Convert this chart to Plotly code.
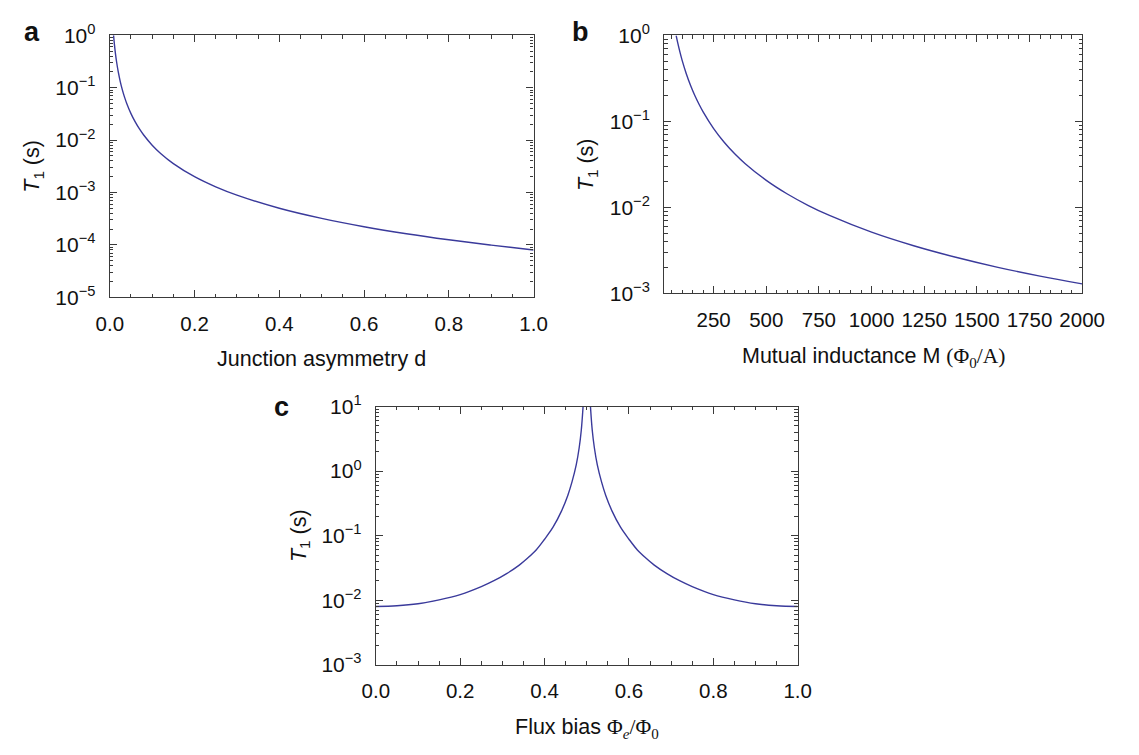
import plotly.graph_objects as go

# ---------------- data ----------------
# Panel a: T1 vs junction asymmetry d
asym_d = [0.0089, 0.011, 0.013, 0.016, 0.02, 0.025, 0.03, 0.035, 0.04, 0.05, 0.06,
          0.07, 0.08, 0.1, 0.12, 0.15, 0.2, 0.25, 0.3, 0.4, 0.5, 0.6, 0.7, 0.8,
          0.9, 1.0]
t1_asym = [1.0, 0.661, 0.473, 0.3125, 0.2, 0.128, 0.0889, 0.0653, 0.05, 0.032,
           0.0222, 0.0163, 0.0125, 0.008, 0.00556, 0.00356, 0.002, 0.00128,
           0.000889, 0.0005, 0.00032, 0.000222, 0.000163, 0.000125, 0.0000988,
           0.00008]

# Panel b: T1 vs mutual inductance M (Phi0/A)
mutual_m = [72, 80, 90, 100, 120, 140, 160, 180, 200, 250, 300, 350, 400, 500,
            600, 700, 800, 1000, 1200, 1400, 1600, 1800, 2000]
t1_mutual = [0.993, 0.805, 0.636, 0.515, 0.358, 0.263, 0.201, 0.159, 0.129,
             0.0824, 0.0572, 0.042, 0.0322, 0.0206, 0.0143, 0.0105, 0.00805,
             0.00515, 0.00358, 0.00263, 0.00201, 0.00159, 0.00129]

# Panel c: T1 vs flux bias (left half; right half mirrored about 0.5)
flux_left = [0.0, 0.05, 0.1, 0.15, 0.2, 0.25, 0.28, 0.31, 0.34, 0.36, 0.38, 0.40,
             0.42, 0.44, 0.455, 0.465, 0.475, 0.482, 0.487, 0.491, 0.4925]
t1_flux_left = [0.0080, 0.0082, 0.0088, 0.0101, 0.0122, 0.0162, 0.0200, 0.0258,
                0.035, 0.045, 0.060, 0.088, 0.135, 0.24, 0.42, 0.68, 1.25, 2.3,
                4.3, 9.5, 14.0]
flux_right = [1.0 - v for v in reversed(flux_left)]
t1_flux_right = list(reversed(t1_flux_left))

# tick labels
decade_exps = [-5, -4, -3, -2, -1, 0, 1]
x01_ticks = [0.0, 0.2, 0.4, 0.6, 0.8, 1.0]
m_ticks = [250, 500, 750, 1000, 1250, 1500, 1750, 2000]

# ---------------- styling ----------------
W, H = 1139, 755
LINE = "rgb(58,58,155)"
AX = "#3a3a3a"
FONT = "Liberation Sans, Arial, sans-serif"
TICK_X = 20.5
TICK_Y = 21
TITLE = 21.5


def px_x(p):
    return p / W


def px_y(p):
    return 1 - p / H


def dec_label(e):
    s = str(e).replace("-", "\u2212")
    return "10<sup>" + s + "</sup>"


def log_axis(lo, hi):
    vals = [10.0 ** e for e in decade_exps if lo <= e <= hi]
    txt = [dec_label(e) for e in decade_exps if lo <= e <= hi]
    minors = []
    for e in range(lo, hi):
        for k in range(2, 10):
            minors.append(k * 10.0 ** e)
    return dict(type="log", range=[lo, hi], tickvals=vals, ticktext=txt,
                ticks="inside", ticklen=7, tickwidth=1, tickcolor=AX,
                showline=True, linecolor=AX, linewidth=1.2, mirror="ticks",
                showgrid=False, zeroline=False,
                tickfont=dict(family=FONT, size=TICK_Y, color="#111"),
                ticklabelstandoff=9,
                minor=dict(tickvals=minors, ticks="inside", ticklen=3.5,
                           tickcolor=AX, tickwidth=1, showgrid=False))


def lin_axis(rng, tvals, ttext, minor_dtick):
    return dict(range=rng, tickvals=tvals, ticktext=ttext,
                ticks="inside", ticklen=7, tickwidth=1, tickcolor=AX,
                showline=True, linecolor=AX, linewidth=1.2, mirror="ticks",
                showgrid=False, zeroline=False,
                tickfont=dict(family=FONT, size=TICK_X, color="#111"),
                ticklabelstandoff=8,
                minor=dict(dtick=minor_dtick, ticks="inside", ticklen=3.5,
                           tickcolor=AX, tickwidth=1, showgrid=False))


fig = go.Figure()
for xs, ys, xr, yr in [(asym_d, t1_asym, "x", "y"),
                       (mutual_m, t1_mutual, "x2", "y2"),
                       (flux_left, t1_flux_left, "x3", "y3"),
                       (flux_right, t1_flux_right, "x3", "y3")]:
    fig.add_trace(go.Scatter(x=xs, y=ys, mode="lines", xaxis=xr, yaxis=yr,
                             line=dict(color=LINE, width=1.4, shape="spline"),
                             showlegend=False, hoverinfo="skip"))

# plot-area boxes in pixels
A = dict(l=99, r=537, t=22, b=293)
B = dict(l=672, r=1104, t=22, b=289)
C = dict(l=374, r=810, t=406, b=673)

xa = lin_axis([0, 1], x01_ticks, ["%.1f" % v for v in x01_ticks], 0.05)
xa.update(domain=[px_x(A["l"]), px_x(A["r"])], anchor="y")
ya = log_axis(-5, 0)
ya.update(domain=[px_y(A["b"]), px_y(A["t"])], anchor="x")

xb = lin_axis([15, 2000], m_ticks, [str(v) for v in m_ticks], 50)
xb.update(domain=[px_x(B["l"]), px_x(B["r"])], anchor="y2")
yb = log_axis(-3, 0)
yb.update(domain=[px_y(B["b"]), px_y(B["t"])], anchor="x2")

xc = lin_axis([0, 1], x01_ticks, ["%.1f" % v for v in x01_ticks], 0.05)
xc.update(domain=[px_x(C["l"]), px_x(C["r"])], anchor="y3")
yc = log_axis(-3, 1)
yc.update(domain=[px_y(C["b"]), px_y(C["t"])], anchor="x3")

fig.update_layout(
    width=W, height=H, margin=dict(l=0, r=0, t=0, b=0),
    paper_bgcolor="white", plot_bgcolor="white",
    xaxis=xa, yaxis=ya, xaxis2=xb, yaxis2=yb, xaxis3=xc, yaxis3=yc,
    font=dict(family=FONT, color="#111"),
)

ann = []


def add_text(x, y, text, size=TITLE, angle=0, bold=False):
    ann.append(dict(x=px_x(x), y=px_y(y), xref="paper", yref="paper",
                    text=("<b>%s</b>" % text) if bold else text,
                    showarrow=False, textangle=angle,
                    xanchor="center", yanchor="middle",
                    font=dict(family=FONT, size=size, color="#111")))


t1_title = "<i>T</i><sub>1</sub> (s)"
# panel letters
add_text(19, 19, "a", size=27, bold=True)
add_text(586, 19, "b", size=27, bold=True)
add_text(276, 406, "c", size=27, bold=True)
# y titles
add_text(20, (A["t"] + A["b"]) / 2, t1_title, angle=-90)
add_text(593, (B["t"] + B["b"]) / 2, t1_title, angle=-90)
add_text(296, (C["t"] + C["b"]) / 2, t1_title, angle=-90)
# x titles
add_text((A["l"] + A["r"]) / 2, 357, "Junction asymmetry d")
add_text((B["l"] + B["r"]) / 2, 355,
         "Mutual inductance M <span style='font-family:Liberation Serif'>(\u03a6<sub>0</sub>/A)</span>")
add_text((C["l"] + C["r"]) / 2, 739,
         "Flux bias <span style='font-family:Liberation Serif'>\u03a6<sub><i>e</i></sub>/\u03a6<sub>0</sub></span>")

fig.update_layout(annotations=ann)
fig.write_html("out.html")
